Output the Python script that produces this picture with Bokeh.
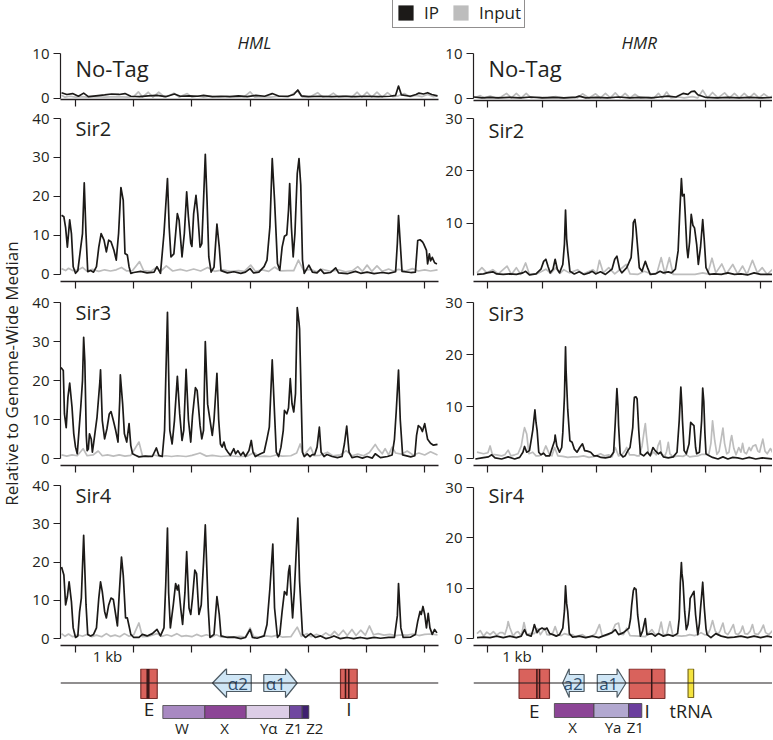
import math
from bokeh.plotting import figure
from bokeh.layouts import column, row
from bokeh.models import Range1d, FixedTicker, Label, Legend, LegendItem, Span
from bokeh.embed import file_html
from bokeh.resources import INLINE
from bokeh.core.properties import value

FONT = "Open Sans"
INK = "#231f20"
IP_COLOR = "#1c1a18"
INPUT_COLOR = "#bdbdbd"

# ---------------- data: (position in kb, signal relative to genome-wide median) ----------------
HML_TICKS_KB = [0, 1, 2, 3, 4, 5, 6]
HMR_TICKS_KB = [0, 1, 2, 3, 4, 5]
SCALE_LABEL_KB = {"HML": 0.55, "HMR": 0.54}
PANELS = ["No-Tag", "Sir2", "Sir3", "Sir4"]
SERIES = ["IP", "Input"]

HML_NOTAG_IP = [(-0.24,1.2),(-0.15,0.8),(-0.05,1.0),(0.05,0.4),(0.14,1.1),(0.22,0.3),(0.35,0.5),(0.5,0.7),(0.62,0.9),(0.75,0.8),(0.85,1.0),(0.95,0.4),(1.1,0.3),(1.25,0.5),(1.4,0.6),(1.55,0.3),(1.7,0.9),(1.8,0.4),(1.95,0.5),(2.1,0.4),(2.2,0.6),(2.35,0.3),(2.5,0.4),(2.65,0.3),(2.8,0.5),(2.95,0.3),(3.1,0.6),(3.25,0.4),(3.38,1.0),(3.5,0.4),(3.65,0.4),(3.75,0.8),(3.82,1.8),(3.88,0.5),(4.0,0.3),(4.2,0.4),(4.4,0.3),(4.6,0.4),(4.8,0.3),(5.0,0.4),(5.2,0.3),(5.4,0.4),(5.5,0.6),(5.55,2.7),(5.6,0.7),(5.75,0.4),(5.85,0.8),(5.9,1.1),(5.98,0.9),(6.05,1.2),(6.12,0.8),(6.22,0.5)]
HML_NOTAG_INPUT = [(-0.24,0.6),(-0.18,0.2),(-0.1,0.4),(0.0,0.2),(0.1,0.3),(0.2,0.2),(0.35,0.3),(0.5,0.2),(0.7,0.3),(0.9,0.2),(1.0,0.3),(1.08,1.4),(1.15,0.2),(1.25,1.3),(1.33,0.2),(1.43,1.3),(1.52,0.3),(1.62,0.6),(1.69,1.1),(1.78,0.2),(1.92,1.0),(2.0,0.2),(2.1,0.5),(2.2,0.2),(2.3,0.4),(2.45,0.2),(2.6,0.4),(2.75,0.2),(2.9,0.3),(3.0,1.4),(3.08,0.2),(3.2,0.3),(3.35,0.2),(3.5,0.4),(3.65,0.2),(3.81,1.6),(3.9,0.2),(4.05,0.4),(4.16,1.2),(4.25,0.2),(4.35,0.4),(4.43,1.1),(4.52,0.2),(4.65,0.5),(4.75,0.2),(4.84,1.3),(4.92,0.2),(5.01,1.3),(5.09,0.2),(5.18,1.3),(5.27,0.2),(5.36,1.2),(5.45,0.3),(5.55,0.5),(5.65,1.0),(5.75,0.3),(5.85,0.6),(5.95,0.3),(6.05,0.8),(6.15,0.3),(6.22,0.5)]

HML_SIR2_IP = [(-0.24,15.2),(-0.20,14.8),(-0.17,12),(-0.14,7),(-0.10,14),(-0.07,10.5),(-0.04,2),(0.0,0.3),(0.04,1),(0.09,7),(0.12,10.5),(0.15,23.5),(0.18,10.5),(0.21,0.7),(0.26,1),(0.31,0.6),(0.36,2),(0.40,7),(0.44,10.5),(0.49,8.8),(0.53,5.8),(0.57,8.8),(0.61,8.4),(0.66,6.2),(0.70,3.7),(0.74,10.5),(0.78,22.3),(0.82,19),(0.85,5.4),(0.89,5),(0.92,2),(0.95,0.3),(1.0,0.5),(1.12,0.8),(1.23,0.4),(1.35,0.6),(1.40,2),(1.46,0.3),(1.52,10.5),(1.58,24.6),(1.61,12),(1.64,4.5),(1.69,5.3),(1.75,15.6),(1.78,13.9),(1.83,4.5),(1.87,10.5),(1.91,21.2),(1.94,14.8),(1.98,8),(2.0,7.2),(2.03,15.6),(2.07,20.3),(2.10,15.6),(2.14,7),(2.17,7.9),(2.20,19),(2.23,30.8),(2.26,19),(2.29,4.5),(2.33,0.6),(2.38,1.9),(2.43,12.9),(2.47,7),(2.50,1),(2.61,0.4),(2.72,0.7),(2.84,0.3),(2.92,0.6),(3.0,1.5),(3.06,0.4),(3.15,0.6),(3.24,2),(3.29,3.7),(3.34,12.2),(3.38,29.7),(3.42,19),(3.47,2.8),(3.51,1.1),(3.55,7),(3.59,9.8),(3.63,10.2),(3.66,16.5),(3.68,23.3),(3.71,12),(3.74,4.5),(3.77,10.5),(3.81,25.9),(3.84,29.7),(3.87,23),(3.90,3.7),(3.93,0.3),(4.01,2.4),(4.07,0.6),(4.15,0.4),(4.21,1.3),(4.27,0.3),(4.38,0.5),(4.47,1.7),(4.52,0.4),(4.67,0.2),(4.81,0.8),(4.90,0.3),(5.01,0.6),(5.13,0.2),(5.27,0.5),(5.38,0.3),(5.50,0.7),(5.53,8),(5.55,15.1),(5.58,8),(5.61,0.8),(5.76,0.5),(5.84,0.6),(5.88,8.7),(5.92,8.9),(5.96,8.4),(5.98,7.9),(6.03,6.2),(6.05,2.7),(6.08,5.3),(6.10,3.5),(6.13,4.4),(6.17,3),(6.21,2.7)]
HML_SIR2_INPUT = [(-0.24,1.5),(-0.17,1.0),(-0.12,1.6),(-0.05,1.0),(0.05,1.2),(0.12,1.8),(0.19,0.9),(0.29,1.3),(0.40,0.8),(0.50,1.2),(0.60,0.9),(0.70,1.2),(0.79,1.8),(0.88,0.9),(0.98,1.0),(1.10,3.3),(1.17,1.0),(1.29,0.8),(1.39,1.8),(1.46,0.8),(1.56,2.2),(1.67,0.9),(1.80,1.3),(1.91,0.9),(2.03,1.4),(2.15,0.9),(2.27,1.8),(2.39,0.8),(2.53,1.2),(2.66,0.8),(2.80,1.0),(2.90,0.8),(3.01,2.4),(3.09,0.8),(3.21,1.2),(3.32,0.8),(3.42,1.9),(3.52,0.9),(3.64,1.0),(3.75,1.0),(3.83,3.7),(3.92,1.0),(4.04,1.3),(4.14,0.7),(4.24,1.3),(4.38,0.8),(4.52,1.2),(4.64,0.7),(4.76,1.0),(4.85,2.0),(4.93,0.8),(5.01,2.4),(5.09,0.8),(5.18,2.2),(5.27,0.8),(5.38,1.4),(5.46,0.9),(5.55,1.3),(5.67,0.9),(5.79,1.5),(5.89,0.9),(6.00,1.2),(6.10,0.9),(6.22,1.2)]

HML_SIR3_IP = [(-0.25,23.4),(-0.21,22.6),(-0.19,11.5),(-0.16,8.0),(-0.13,15.8),(-0.10,19.4),(-0.06,13.2),(-0.03,6.4),(0.0,3.0),(0.03,1.3),(0.06,7.3),(0.09,13.2),(0.12,20),(0.14,31.1),(0.16,25),(0.185,6),(0.20,2.1),(0.22,2.5),(0.24,6.4),(0.27,5.1),(0.29,1.7),(0.31,3.8),(0.34,7.3),(0.37,10.7),(0.42,20),(0.43,22.8),(0.46,9.8),(0.50,5.1),(0.54,7.7),(0.58,11.5),(0.61,12.1),(0.65,9.8),(0.69,7.3),(0.73,4.3),(0.76,15),(0.77,21.5),(0.81,14),(0.84,6.4),(0.88,4.3),(0.92,9.0),(0.95,3.4),(0.98,1.3),(1.03,0.9),(1.09,0.5),(1.20,0.7),(1.32,0.6),(1.39,2.8),(1.43,0.9),(1.49,0.6),(1.53,7.3),(1.55,20),(1.58,37.5),(1.60,22),(1.62,7.3),(1.66,3.8),(1.70,9.8),(1.75,21.1),(1.79,11.5),(1.83,4.7),(1.86,7.3),(1.90,22.9),(1.94,10),(1.98,4.3),(2.01,11),(2.06,18.2),(2.09,17.5),(2.14,8.5),(2.17,5.1),(2.20,7.3),(2.23,30),(2.27,14),(2.35,6),(2.38,10),(2.43,21.9),(2.46,10),(2.49,3.8),(2.52,3.0),(2.55,4.3),(2.58,2.6),(2.62,1.7),(2.66,0.9),(2.72,2.6),(2.75,1.3),(2.79,2.1),(2.84,0.9),(2.88,1.7),(2.92,0.6),(2.98,2.1),(3.02,4.7),(3.05,1.7),(3.09,0.6),(3.18,1.3),(3.24,1.7),(3.29,5.1),(3.33,8.1),(3.38,25.3),(3.42,11.5),(3.45,1.7),(3.49,0.6),(3.53,3.0),(3.57,7.3),(3.59,12.4),(3.63,11.5),(3.66,13),(3.69,20.5),(3.72,14.1),(3.75,12),(3.78,16.7),(3.81,38.7),(3.84,34.9),(3.85,33.2),(3.88,14),(3.90,1.7),(3.93,0.6),(3.98,1.3),(4.03,0.6),(4.07,1.1),(4.11,1.1),(4.15,3.0),(4.19,8.1),(4.22,1.7),(4.27,0.6),(4.32,1.1),(4.41,0.6),(4.50,0.3),(4.58,0.6),(4.62,3.8),(4.66,8.4),(4.70,1.7),(4.75,0.3),(4.84,0.6),(4.93,0.2),(5.01,0.6),(5.10,0.2),(5.15,1.3),(5.24,0.3),(5.36,0.6),(5.44,1.0),(5.48,5),(5.51,12),(5.55,22.7),(5.58,10),(5.62,1),(5.76,0.5),(5.83,0.8),(5.86,6),(5.89,8.5),(5.93,8),(5.96,7),(6.00,9),(6.05,5),(6.10,4),(6.15,3.5),(6.22,3.7)]
HML_SIR3_INPUT = [(-0.24,1.0),(-0.15,0.7),(-0.06,1.0),(0.03,0.8),(0.13,2.6),(0.20,0.8),(0.30,1.0),(0.39,2.0),(0.46,0.8),(0.55,1.0),(0.65,0.7),(0.75,1.0),(0.85,0.7),(0.95,0.9),(1.09,4.3),(1.15,0.8),(1.25,0.6),(1.35,1.0),(1.45,0.6),(1.55,0.8),(1.65,0.6),(1.75,0.8),(1.90,0.6),(2.00,0.9),(2.14,1.5),(2.25,0.7),(2.35,0.9),(2.50,0.6),(2.65,0.8),(2.80,0.6),(2.95,0.7),(3.07,1.6),(3.15,0.6),(3.25,0.7),(3.35,0.6),(3.45,1.0),(3.55,0.7),(3.70,0.8),(3.80,1.5),(3.86,3.8),(3.92,0.8),(4.04,3.0),(4.10,0.8),(4.20,0.9),(4.33,1.7),(4.42,0.8),(4.55,1.0),(4.65,2.1),(4.75,0.8),(4.85,1.2),(4.95,0.8),(5.05,1.6),(5.15,3.7),(5.20,2.5),(5.27,1.3),(5.32,2.6),(5.38,1.0),(5.44,3.0),(5.50,1.5),(5.60,1.2),(5.70,2.0),(5.80,1.0),(5.90,1.5),(6.00,1.0),(6.10,1.8),(6.22,1.0)]

HML_SIR4_IP = [(-0.24,18.7),(-0.20,16.6),(-0.17,8.8),(-0.14,11),(-0.11,14.8),(-0.07,9.6),(-0.04,2.8),(0.0,0.3),(0.04,0.7),(0.07,7),(0.10,10.6),(0.14,27),(0.18,9),(0.21,1.1),(0.26,0.7),(0.31,1.1),(0.36,2.8),(0.40,10.6),(0.43,14.8),(0.46,12.3),(0.50,7.1),(0.53,5.4),(0.57,8.8),(0.61,10.6),(0.65,10.2),(0.69,6.3),(0.72,3.3),(0.75,11.4),(0.79,21.3),(0.82,16.6),(0.86,5.4),(0.89,5.4),(0.92,3.3),(0.95,1.1),(1.00,0.3),(1.09,0.3),(1.15,1.1),(1.23,0.7),(1.32,1.3),(1.40,2.4),(1.46,0.7),(1.52,2.8),(1.55,14),(1.58,28.9),(1.60,12),(1.63,2.8),(1.68,8.8),(1.72,14.4),(1.75,12.7),(1.77,14),(1.81,7.6),(1.84,3.7),(1.88,12),(1.91,22.7),(1.95,8),(1.98,6.3),(2.01,10.6),(2.05,17.9),(2.08,17),(2.12,6.3),(2.16,8.8),(2.20,20),(2.23,29.7),(2.28,8),(2.31,0.3),(2.38,1.1),(2.43,11),(2.47,6.3),(2.50,0.7),(2.61,0.3),(2.72,0.4),(2.84,0.0),(2.92,0.3),(3.00,2.4),(3.04,0.3),(3.12,0.1),(3.24,0.7),(3.29,3.7),(3.34,13.1),(3.39,24.7),(3.42,8),(3.47,0.3),(3.51,1.1),(3.55,7.1),(3.59,12.3),(3.63,11.4),(3.66,17.4),(3.68,19.1),(3.70,13),(3.73,5.4),(3.76,12.3),(3.82,31.5),(3.85,15),(3.90,1.1),(3.95,0.3),(4.04,1.3),(4.12,0.3),(4.21,0.7),(4.30,0.0),(4.38,0.3),(4.44,0.7),(4.55,0.0),(4.67,0.3),(4.78,0.0),(4.90,0.3),(5.01,0.0),(5.13,0.3),(5.24,0.1),(5.38,0.3),(5.48,0.3),(5.53,6),(5.55,14.4),(5.59,2.8),(5.63,0.3),(5.76,0.4),(5.84,1.1),(5.88,4.5),(5.92,7.1),(5.94,6.3),(5.97,8.4),(6.00,6.3),(6.03,2.8),(6.06,6.6),(6.09,2.8),(6.13,1.1),(6.17,2.4),(6.21,1.5)]
HML_SIR4_INPUT = [(-0.24,1.3),(-0.18,0.6),(-0.12,1.2),(-0.05,0.5),(0.04,1.0),(0.12,0.6),(0.20,1.1),(0.28,0.5),(0.36,0.9),(0.45,0.5),(0.53,1.3),(0.60,0.6),(0.68,0.9),(0.76,0.5),(0.84,1.3),(0.92,0.6),(1.00,1.0),(1.09,4.1),(1.15,0.5),(1.25,0.6),(1.32,0.9),(1.40,1.3),(1.48,0.6),(1.57,1.0),(1.65,0.6),(1.74,1.3),(1.82,0.6),(1.90,0.8),(2.00,0.5),(2.08,1.1),(2.16,0.6),(2.25,1.0),(2.35,0.5),(2.42,1.0),(2.50,0.4),(2.60,0.5),(2.70,0.4),(2.82,0.6),(2.92,0.4),(3.00,2.8),(3.06,0.6),(3.15,0.4),(3.27,0.7),(3.37,0.5),(3.47,0.9),(3.55,0.4),(3.70,0.5),(3.81,3.0),(3.88,0.6),(3.98,1.3),(4.05,0.5),(4.14,1.1),(4.22,0.6),(4.30,1.5),(4.38,0.7),(4.45,1.9),(4.52,0.8),(4.60,2.2),(4.67,0.8),(4.75,2.4),(4.82,0.8),(4.90,2.2),(4.98,0.9),(5.05,3.3),(5.12,1.0),(5.20,1.3),(5.30,0.9),(5.40,1.1),(5.50,0.8),(5.60,1.0),(5.70,0.9),(5.80,1.2),(5.90,0.8),(6.00,1.1),(6.10,1.2),(6.22,1.0)]

HMR_NOTAG_IP = [(-0.25,0.4),(-0.1,0.2),(0.05,0.3),(0.2,0.2),(0.4,0.3),(0.6,0.2),(0.8,0.4),(1.0,0.2),(1.2,0.3),(1.4,0.2),(1.6,0.3),(1.68,0.6),(1.8,0.2),(2.0,0.3),(2.2,0.2),(2.4,0.4),(2.6,0.2),(2.8,0.3),(3.0,0.2),(3.15,0.4),(3.3,0.6),(3.45,0.4),(3.58,1.2),(3.67,1.0),(3.73,1.6),(3.79,1.7),(3.85,0.9),(4.0,0.3),(4.2,0.2),(4.4,0.3),(4.6,0.2),(4.8,0.3),(5.0,0.2),(5.22,0.3)]
HMR_NOTAG_INPUT = [(-0.22,0.3),(-0.13,0.7),(-0.05,0.2),(0.05,0.6),(0.15,0.2),(0.25,0.4),(0.35,1.2),(0.44,0.2),(0.53,1.2),(0.62,0.2),(0.71,1.2),(0.8,0.2),(0.95,0.4),(1.1,0.2),(1.25,0.5),(1.4,0.2),(1.55,0.4),(1.65,0.2),(1.74,1.1),(1.86,0.2),(1.98,1.1),(2.07,0.2),(2.16,1.2),(2.25,0.2),(2.34,1.3),(2.43,0.2),(2.52,1.2),(2.61,0.2),(2.70,1.0),(2.8,0.2),(2.95,0.4),(3.05,0.2),(3.13,1.2),(3.2,0.2),(3.28,1.5),(3.36,0.2),(3.5,0.4),(3.6,0.2),(3.75,0.5),(3.85,0.2),(3.94,1.9),(4.03,0.2),(4.12,1.4),(4.22,0.2),(4.34,1.3),(4.43,0.2),(4.52,1.2),(4.61,0.2),(4.70,1.2),(4.79,0.2),(4.88,1.2),(4.97,0.2),(5.06,1.1),(5.15,0.3),(5.22,0.6)]

HMR_SIR2_IP = [(-0.19,0.2),(-0.07,0.3),(-0.01,0.5),(0.10,0.7),(0.17,0.3),(0.29,0.2),(0.41,0.3),(0.53,0.2),(0.65,0.5),(0.70,0.8),(0.77,0.1),(0.89,0.3),(0.98,1.2),(1.03,2.7),(1.07,3.1),(1.11,1.7),(1.15,0.5),(1.20,1.2),(1.24,3.1),(1.28,1.2),(1.32,0.5),(1.38,2.1),(1.41,6),(1.43,12.5),(1.45,7),(1.47,4.7),(1.51,0.8),(1.59,0.3),(1.68,0.7),(1.77,0.2),(1.86,0.5),(1.92,0.8),(1.98,0.3),(2.07,0.7),(2.16,0.2),(2.28,1.2),(2.33,3.1),(2.37,3.7),(2.42,1.2),(2.46,0.5),(2.55,1.5),(2.63,3.4),(2.66,7.5),(2.67,10.1),(2.70,10.7),(2.72,9),(2.74,6.5),(2.78,1.5),(2.83,0.8),(2.86,1.8),(2.89,2.7),(2.93,1.5),(2.98,0.2),(3.07,0.3),(3.16,0.8),(3.22,0.5),(3.31,0.7),(3.37,0.5),(3.44,1.2),(3.49,4.7),(3.52,12),(3.55,18.5),(3.57,15.2),(3.60,15.5),(3.62,11.7),(3.65,5.3),(3.67,3.4),(3.70,6.4),(3.73,11.7),(3.76,9.6),(3.79,9.1),(3.83,5.9),(3.86,2.1),(3.90,5.4),(3.94,10.7),(3.97,6.5),(4.00,1.5),(4.06,0.2),(4.15,0.3),(4.28,0.2),(4.40,0.5),(4.52,0.2),(4.64,0.3),(4.76,0.1),(4.88,0.5),(5.00,0.2),(5.22,0.2)]
HMR_SIR2_INPUT = [(-0.19,0.5),(-0.10,1.5),(-0.01,0.5),(0.10,1.1),(0.20,0.3),(0.36,1.8),(0.44,0.2),(0.53,1.5),(0.61,0.2),(0.70,2.4),(0.77,0.2),(0.90,0.3),(1.07,1.2),(1.16,0.4),(1.25,1.5),(1.33,0.4),(1.40,1.1),(1.50,0.5),(1.65,1.1),(1.75,0.3),(1.93,1.1),(2.00,0.4),(2.05,2.9),(2.12,0.5),(2.22,1.5),(2.33,0.3),(2.54,2.1),(2.61,0.3),(2.75,0.2),(2.87,0.8),(3.00,0.3),(3.10,0.4),(3.18,3.4),(3.25,0.3),(3.33,3.4),(3.40,0.2),(3.60,0.2),(3.80,0.2),(3.94,0.5),(4.03,0.3),(4.11,3.3),(4.18,0.5),(4.29,2.2),(4.37,0.3),(4.49,2.1),(4.58,0.3),(4.67,1.8),(4.75,0.2),(4.85,2.9),(4.94,0.5),(5.03,1.5),(5.12,0.2),(5.22,1.2)]

HMR_SIR3_IP = [(-0.22,0.0),(-0.10,0.2),(0.02,0.4),(0.08,0.8),(0.14,0.2),(0.26,0.0),(0.38,0.4),(0.50,0.0),(0.59,0.3),(0.65,1.3),(0.68,2.4),(0.72,1.3),(0.77,1.6),(0.80,3.5),(0.83,5.5),(0.87,9.4),(0.89,7),(0.91,5.5),(0.94,1.3),(0.98,0.8),(1.03,1.1),(1.07,0.6),(1.14,0.6),(1.18,1.9),(1.23,3.5),(1.24,4.6),(1.27,2.5),(1.32,1.3),(1.36,2.2),(1.38,5),(1.41,12),(1.43,21.5),(1.44,17),(1.47,9.5),(1.51,3.5),(1.55,3.2),(1.59,1.9),(1.64,1.3),(1.69,2.2),(1.74,2.9),(1.78,1.6),(1.83,1.5),(1.89,1.3),(1.95,0.6),(2.01,0.6),(2.08,0.3),(2.16,0.2),(2.25,0.4),(2.31,1.3),(2.34,7),(2.37,13.5),(2.39,10),(2.40,6.5),(2.43,1.0),(2.48,0.4),(2.52,0.6),(2.57,1.6),(2.61,2.2),(2.66,6.0),(2.68,10.5),(2.69,11.8),(2.72,11.9),(2.74,11.5),(2.77,5.4),(2.80,1.0),(2.86,0.6),(2.93,1.3),(2.98,0.6),(3.03,2.2),(3.07,1.6),(3.13,1.0),(3.17,1.3),(3.22,0.4),(3.31,0.2),(3.40,0.4),(3.47,1.3),(3.51,7.3),(3.54,13.8),(3.56,10),(3.57,7.3),(3.60,1.6),(3.64,1.0),(3.69,2.9),(3.72,7.0),(3.75,6.7),(3.78,6.4),(3.81,2.2),(3.83,1.0),(3.88,1.3),(3.92,7.3),(3.94,13.6),(3.96,11),(3.98,5),(4.00,1.0),(4.06,0.6),(4.12,0.3),(4.22,0.0),(4.31,0.4),(4.40,0.0),(4.49,0.3),(4.58,0.2),(4.67,0.0),(4.79,0.3),(4.91,0.0),(5.03,0.2),(5.22,0.0)]
HMR_SIR3_INPUT = [(-0.19,1.3),(-0.07,1.0),(0.01,1.2),(0.05,2.5),(0.09,0.9),(0.17,0.8),(0.26,0.6),(0.32,0.8),(0.38,1.7),(0.43,0.6),(0.50,0.8),(0.56,1.0),(0.62,2.5),(0.66,5),(0.68,6.0),(0.72,4.8),(0.76,1.0),(0.83,1.3),(0.89,0.6),(0.95,0.6),(1.01,1.0),(1.07,2.5),(1.14,0.8),(1.18,0.6),(1.23,2.2),(1.29,0.6),(1.38,0.5),(1.47,0.3),(1.56,0.4),(1.65,0.4),(1.76,0.6),(1.86,0.3),(1.96,0.5),(2.07,1.0),(2.14,0.6),(2.22,0.8),(2.28,0.4),(2.34,2.2),(2.40,0.6),(2.46,0.8),(2.52,1.6),(2.55,2.2),(2.60,0.8),(2.68,0.8),(2.74,0.6),(2.78,0.6),(2.83,2.5),(2.87,5.5),(2.89,6.8),(2.91,4.5),(2.95,0.9),(2.99,0.8),(3.04,1.3),(3.09,0.8),(3.12,2.5),(3.16,3.5),(3.19,0.8),(3.25,0.6),(3.28,1.5),(3.31,3.2),(3.34,1.0),(3.40,0.4),(3.49,0.6),(3.58,0.5),(3.64,0.8),(3.70,0.4),(3.76,0.5),(3.85,0.6),(3.93,0.9),(3.99,0.9),(4.05,0.8),(4.09,3),(4.12,7.3),(4.16,3.5),(4.20,0.9),(4.24,1.5),(4.28,4),(4.31,5.9),(4.34,3),(4.38,1.0),(4.42,1.3),(4.45,3.5),(4.47,4.5),(4.51,2),(4.55,0.8),(4.60,2.2),(4.64,1.3),(4.67,3.0),(4.70,1.3),(4.74,1.0),(4.79,2.2),(4.82,1.6),(4.86,2.5),(4.91,2.7),(4.95,1.5),(4.98,1.3),(5.02,3.0),(5.04,3.8),(5.08,1.5),(5.12,1.0),(5.18,2.0),(5.22,1.2)]

HMR_SIR4_IP = [(-0.19,0.2),(-0.07,0.3),(0.05,0.2),(0.17,0.5),(0.29,0.2),(0.41,0.5),(0.53,0.2),(0.62,0.5),(0.68,1.8),(0.72,0.8),(0.80,0.5),(0.83,1.5),(0.86,2.8),(0.91,1.2),(0.95,1.8),(1.00,2.1),(1.05,1.8),(1.09,2.1),(1.14,1.0),(1.20,0.8),(1.26,0.5),(1.32,0.8),(1.38,2.1),(1.41,5.5),(1.43,10.5),(1.45,7),(1.47,5.4),(1.50,1.0),(1.56,0.3),(1.68,0.5),(1.80,0.2),(1.92,0.5),(2.04,0.2),(2.16,0.7),(2.28,1.2),(2.34,1.8),(2.40,0.8),(2.49,1.2),(2.59,2.1),(2.62,4),(2.64,6.6),(2.67,9.5),(2.69,10.1),(2.70,9.9),(2.72,9.8),(2.74,6.5),(2.75,4.7),(2.80,0.5),(2.84,1.5),(2.87,3.0),(2.89,4.0),(2.92,0.8),(3.01,1.0),(3.07,0.5),(3.13,1.0),(3.22,0.5),(3.31,0.8),(3.40,0.5),(3.48,1.0),(3.51,4),(3.53,11),(3.55,15.1),(3.56,13),(3.58,11.2),(3.61,5.4),(3.64,1.8),(3.67,2.8),(3.70,6),(3.71,8.0),(3.74,8.6),(3.78,9.4),(3.81,4.7),(3.85,0.8),(3.88,3),(3.90,6),(3.92,8.5),(3.94,11.2),(3.97,6),(4.00,2),(4.02,0.8),(4.09,0.2),(4.18,1.0),(4.28,0.5),(4.40,0.2),(4.52,0.3),(4.64,0.5),(4.76,0.2),(4.88,0.5),(5.00,0.2),(5.12,0.5),(5.22,0.3)]
HMR_SIR4_INPUT = [(-0.19,1.0),(-0.13,1.6),(-0.07,0.5),(-0.01,1.3),(0.05,0.8),(0.11,1.4),(0.17,0.7),(0.23,1.2),(0.28,1.2),(0.32,0.8),(0.36,2.2),(0.38,3.4),(0.41,2.2),(0.47,0.5),(0.52,1.2),(0.56,1.4),(0.62,0.6),(0.65,2.1),(0.67,3.2),(0.72,0.8),(0.78,1.0),(0.86,1.0),(0.92,2.0),(0.97,0.8),(1.05,2.1),(1.09,0.8),(1.14,0.7),(1.20,1.2),(1.24,2.4),(1.29,0.8),(1.35,0.6),(1.41,1.0),(1.50,0.7),(1.56,0.8),(1.62,0.3),(1.68,0.6),(1.74,0.8),(1.81,0.3),(1.89,0.4),(1.98,1.0),(2.05,2.8),(2.10,0.6),(2.16,0.6),(2.22,0.8),(2.28,1.3),(2.34,2.8),(2.40,3.1),(2.44,0.9),(2.49,0.8),(2.55,2.1),(2.61,0.6),(2.77,0.5),(2.89,0.4),(3.01,1.8),(3.07,0.8),(3.13,1.0),(3.18,3.3),(3.22,0.8),(3.28,0.8),(3.34,3.4),(3.39,0.8),(3.46,0.6),(3.55,0.5),(3.64,0.6),(3.70,0.8),(3.79,0.6),(3.85,0.8),(3.91,1.2),(3.97,0.8),(4.03,0.7),(4.08,2.0),(4.12,3.6),(4.17,1.5),(4.22,0.8),(4.26,1.6),(4.31,3.1),(4.35,1.2),(4.40,0.8),(4.44,1.5),(4.50,2.8),(4.54,1.0),(4.59,0.8),(4.64,1.5),(4.67,2.5),(4.71,1.0),(4.76,0.9),(4.81,1.5),(4.85,2.8),(4.89,1.0),(4.95,0.8),(5.00,1.5),(5.05,2.7),(5.09,1.2),(5.15,0.8),(5.22,1.6)]

# gene maps (kb)
HML_BOXES = {"label": ["E", "I"], "start": [1.122, 4.553], "end": [1.404, 4.840], "bars": [[1.232, 1.259], [4.639, 4.696]]}
HML_ARROWS = {"label": ["\u03b12", "\u03b11"], "tail": [3.019, 3.235], "base": [2.595, 3.608], "tip": [2.354, 3.809], "text_x": [2.79, 3.44]}
HML_SEGMENTS = {"label": ["W", "X", "Y\u03b1", "Z1", "Z2"], "start": [1.500, 2.222, 2.933, 3.677, 3.895], "end": [2.222, 2.933, 3.677, 3.895, 4.009], "text_x": [1.83, 2.56, 3.32, 3.75, 4.11], "color": ["#a889c2", "#8c4596", "#dccde6", "#7048a0", "#3f2070"]}
HMR_BOXES = {"label": ["E", "I"], "start": [0.580, 2.596], "end": [1.136, 3.248], "bars": [[0.906, 0.955], [3.007]]}
HMR_TRNA = {"label": ["tRNA"], "start": [3.672], "end": [3.774]}
HMR_ARROWS = {"label": ["a2", "a1"], "tail": [1.770, 2.011], "base": [1.498, 2.373], "tip": [1.377, 2.536], "text_x": [1.57, 2.22]}
HMR_SEGMENTS = {"label": ["X", "Ya", "Z1"], "start": [1.226, 1.951, 2.585], "end": [1.951, 2.585, 2.826], "text_x": [1.558, 2.30, 2.705], "color": ["#8c4596", "#b2a8d0", "#6b3e9e"]}

# ---------------- layout (px) ----------------
STRIP_H = 28
ROW_H = [80, 181, 184, 195]
MAP_H = 71
HML_XR = Range1d(-0.258, 6.237)
HMR_XR = Range1d(-0.254, 5.217)

HML_SPEC = [  # y range, y ticks, borders top/bottom, name font, name offset (label middle below frame top)
    ((-0.33, 10), [0, 10], 24, 9, "22px", -14),
    ((-1.8, 40), [0, 10, 20, 30, 40], 10, 8, "20px", -9.5),
    ((-1.7, 40), [0, 10, 20, 30, 40], 13, 8, "20px", -10),
    ((-1.8, 40), [0, 10, 20, 30, 40], 12, 20, "20px", -9.5),
]
HMR_SPEC = [
    ((-0.37, 10), [0, 10], 24, 8, "22px", -14.5),
    ((-1.15, 30), [10, 20, 30], 10, 8, "20px", -12),
    ((-1.25, 30), [0, 10, 20, 30], 13, 8, "20px", -10.5),
    ((-1.36, 30.4), [0, 10, 20, 30], 12, 20, "20px", -9.5),
]
HML_DATA = [(HML_NOTAG_IP, HML_NOTAG_INPUT), (HML_SIR2_IP, HML_SIR2_INPUT), (HML_SIR3_IP, HML_SIR3_INPUT), (HML_SIR4_IP, HML_SIR4_INPUT)]
HMR_DATA = [(HMR_NOTAG_IP, HMR_NOTAG_INPUT), (HMR_SIR2_IP, HMR_SIR2_INPUT), (HMR_SIR3_IP, HMR_SIR3_INPUT), (HMR_SIR4_IP, HMR_SIR4_INPUT)]


def bare(p):
    p.outline_line_color = None
    p.background_fill_color = "white"
    p.border_fill_color = "white"
    return p


def make_panel(xr, width, mbl, mbr, height, spec, data, name, xticks, scale_kb=None):
    (y0, y1), yticks, mbt, mbb, nsize, ndy = spec
    p = figure(width=width, height=height, x_range=xr, y_range=Range1d(y0, y1),
               output_backend="svg", toolbar_location=None,
               min_border_left=mbl, min_border_right=mbr, min_border_top=mbt, min_border_bottom=mbb)
    bare(p)
    p.grid.visible = False
    xa = p.xaxis[0]
    # kb ticks are drawn as unlabelled minor ticks; the only labelled tick is the "1 kb" scale mark
    if scale_kb is None:
        xa.ticker = FixedTicker(ticks=[], minor_ticks=xticks)
    else:
        xa.ticker = FixedTicker(ticks=[scale_kb], minor_ticks=xticks)
        xa.major_label_overrides = {scale_kb: "1 kb"}
    xa.major_tick_out = 0
    xa.major_tick_in = 0
    xa.major_tick_line_color = None
    xa.major_label_standoff = -7
    xa.major_label_text_font = FONT
    xa.major_label_text_font_size = "15px"
    xa.major_label_text_color = INK
    xa.minor_tick_out = 7
    xa.minor_tick_in = 0
    xa.minor_tick_line_color = INK
    xa.minor_tick_line_width = 1.2
    xa.axis_line_color = INK
    xa.axis_line_width = 1.3
    ya = p.yaxis[0]
    ya.ticker = FixedTicker(ticks=yticks)
    ya.bounds = (0, yticks[-1])
    ya.major_tick_out = 7
    ya.major_tick_in = 0
    ya.minor_tick_line_color = None
    ya.axis_line_color = INK
    ya.axis_line_width = 1.2
    ya.major_tick_line_color = INK
    ya.major_tick_line_width = 1.2
    ya.major_label_text_font = FONT
    ya.major_label_text_font_size = "15px"
    ya.major_label_text_color = INK
    ya.major_label_standoff = 4
    ip, inp = data
    p.line([a for a, b in inp], [b for a, b in inp], color=INPUT_COLOR, line_width=1.7, line_join="round")
    p.line([a for a, b in ip], [b for a, b in ip], color=IP_COLOR, line_width=1.7, line_join="round")
    p.add_layout(Label(x=xr.start, y=y1, x_offset=15, y_offset=ndy, text=name, text_font=FONT,
                       text_font_size=nsize, text_color=INK, text_baseline="middle"))
    return p


def make_map(xr, width, mbl, mbr, boxes, arrows, segments, geo, trna=None):
    line_y, box_top, box_bot, bar_top, bar_bot, lab_y, seg_lab_y = geo
    p = figure(width=width, height=MAP_H, x_range=xr, y_range=Range1d(MAP_H, 0),
               output_backend="svg", toolbar_location=None, x_axis_type=None, y_axis_type=None,
               min_border_left=mbl, min_border_right=mbr, min_border_top=0, min_border_bottom=0)
    bare(p)
    p.add_layout(Span(location=line_y, dimension="width", line_color=INK, line_width=1.2))
    xs, ys = [], []
    for tail, base, tip in zip(arrows["tail"], arrows["base"], arrows["tip"]):
        xs.append([tip, base, base, tail, tail, base, base])
        ys.append([line_y, line_y - 14.5, line_y - 8.5, line_y - 8.5, line_y + 8.5, line_y + 8.5, line_y + 14.5])
    p.patches(xs, ys, fill_color="#cfe6f6", line_color="#4d5a63", line_width=1.2)
    p.text(arrows["text_x"], [line_y] * len(arrows["tip"]), text=arrows["label"], text_font=value(FONT),
           text_font_size="17px", text_color="#2f4f6f", text_align="center", text_baseline="middle")
    p.quad(left=boxes["start"], right=boxes["end"], top=[box_top] * 2, bottom=[box_bot] * 2,
           fill_color="#d9625c", line_color="#7a2f2c", line_width=1.2)
    bx = [b for bars in boxes["bars"] for b in bars]
    p.segment(x0=bx, y0=[box_top] * len(bx), x1=bx, y1=[box_bot] * len(bx), line_color="#3a1616", line_width=1.5)
    p.text([(a + b) / 2 for a, b in zip(boxes["start"], boxes["end"])], [lab_y, lab_y], text=boxes["label"],
           text_font=value(FONT), text_font_size="19px", text_color=INK, text_align="center", text_baseline="middle")
    if trna is not None:
        p.quad(left=trna["start"], right=trna["end"], top=[box_top], bottom=[box_bot - 1], fill_color="#f4e33f",
               line_color="#7a6b1f", line_width=1.2)
        p.text([(trna["start"][0] + trna["end"][0]) / 2], [lab_y], text=trna["label"], text_font=value(FONT),
               text_font_size="18px", text_color=INK, text_align="center", text_baseline="middle")
    n = len(segments["label"])
    p.quad(left=segments["start"], right=segments["end"], top=[bar_top] * n, bottom=[bar_bot] * n,
           fill_color=segments["color"], line_color="#444444", line_width=0.8)
    p.text(segments["text_x"], [seg_lab_y] * n, text=segments["label"], text_font=value(FONT),
           text_font_size="15px", text_color=INK, text_align="center", text_baseline="middle")
    return p


# ---------------- build ----------------
YLAB_W = 24
LEFT_W, LEFT_MBL, LEFT_MBR = 418, 36, 4
RIGHT_W, RIGHT_MBL, RIGHT_MBR = 330, 28, 0
TOTAL_W = YLAB_W + LEFT_W + RIGHT_W

left_figs, right_figs = [], []
for i, name in enumerate(PANELS):
    last = i == len(PANELS) - 1
    left_figs.append(make_panel(HML_XR, LEFT_W, LEFT_MBL, LEFT_MBR, ROW_H[i], HML_SPEC[i], HML_DATA[i], name,
                                HML_TICKS_KB, SCALE_LABEL_KB["HML"] if last else None))
    right_figs.append(make_panel(HMR_XR, RIGHT_W, RIGHT_MBL, RIGHT_MBR, ROW_H[i], HMR_SPEC[i], HMR_DATA[i], name,
                                 HMR_TICKS_KB, SCALE_LABEL_KB["HMR"] if last else None))

# locus titles
for p, txt, off in ((left_figs[0], "HML", 177), (right_figs[0], "HMR", 148)):
    p.title.text = txt
    p.title.align = "left"
    p.title.offset = off
    p.title.standoff = 0
    p.title.text_font = FONT
    p.title.text_font_style = "italic"
    p.title.text_font_size = "17px"
    p.title.text_color = INK

left_figs.append(make_map(HML_XR, LEFT_W, LEFT_MBL, LEFT_MBR, HML_BOXES, HML_ARROWS, HML_SEGMENTS,
                          (14.5, 0.5, 30, 37, 50, 40.5, 59)))
right_figs.append(make_map(HMR_XR, RIGHT_W, RIGHT_MBL, RIGHT_MBR, HMR_BOXES, HMR_ARROWS, HMR_SEGMENTS,
                           (14.5, 0.5, 30, 35, 49, 42, 58.5), HMR_TRNA))

# shared y-axis title
TOTAL_H = sum(ROW_H) + MAP_H
ylab = bare(figure(width=YLAB_W, height=TOTAL_H, x_range=Range1d(0, YLAB_W), y_range=Range1d(0, TOTAL_H),
                   output_backend="svg", toolbar_location=None, x_axis_type=None, y_axis_type=None, min_border=0))
ylab.add_layout(Label(x=11, y=TOTAL_H - 345, text="Relative to Genome-Wide Median", angle=math.pi / 2,
                      text_font=FONT, text_font_size="17px", text_color=INK, text_align="center", text_baseline="middle"))

# legend strip
strip = bare(figure(width=TOTAL_W, height=STRIP_H, x_range=Range1d(0, TOTAL_W), y_range=Range1d(0, STRIP_H),
                    output_backend="svg", toolbar_location=None, x_axis_type=None, y_axis_type=None, min_border=0))
r_ip = strip.quad(left=[-60], right=[-50], bottom=[-60], top=[-50], fill_color=IP_COLOR, line_color=None)
r_in = strip.quad(left=[-60], right=[-50], bottom=[-60], top=[-50], fill_color=INPUT_COLOR, line_color=None)
legend = Legend(items=[LegendItem(label=SERIES[0], renderers=[r_ip]), LegendItem(label=SERIES[1], renderers=[r_in])],
                orientation="horizontal", location=(392, 0), margin=0, padding=3, spacing=12,
                glyph_width=19, glyph_height=19, label_standoff=9, label_height=16, label_width=10,
                label_text_font=FONT, label_text_font_size="17px", label_text_color=INK,
                border_line_color=INK, border_line_width=1, background_fill_alpha=1)
strip.add_layout(legend, "center")

page = column(strip, row(ylab, column(*left_figs), column(*right_figs)))
open("out.html", "w").write(file_html(page, INLINE, "Sir protein ChIP at HML and HMR"))
